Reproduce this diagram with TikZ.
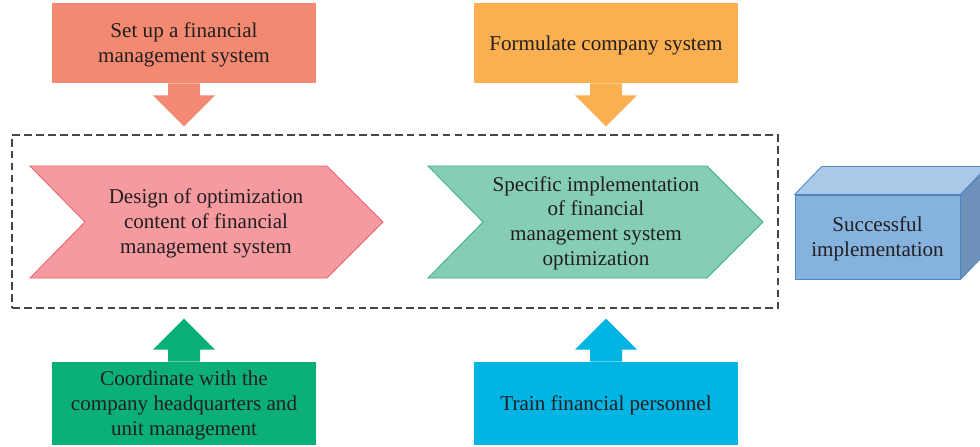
\documentclass[tikz,border=0pt]{standalone}
\usepackage{fontspec}
\setmainfont{Liberation Serif}
\usetikzlibrary{calc,positioning}

\definecolor{ink}{RGB}{35,31,32}
\definecolor{salmon}{RGB}{244,137,113}
\definecolor{amber}{RGB}{250,175,80}
\definecolor{teal}{RGB}{11,175,122}
\definecolor{sky}{RGB}{0,180,228}
\definecolor{pinkfill}{RGB}{245,155,160}
\definecolor{pinkline}{RGB}{235,95,110}
\definecolor{mintfill}{RGB}{133,205,181}
\definecolor{mintline}{RGB}{60,175,140}
\definecolor{cubefront}{RGB}{134,178,222}
\definecolor{cubetop}{RGB}{170,200,232}
\definecolor{cubeside}{RGB}{110,145,185}
\definecolor{cubeline}{RGB}{79,134,198}
\definecolor{framegray}{RGB}{70,70,70}

% block arrow: base, tip, colour, head offset (sign gives direction)
\newcommand{\blockarrow}[4]{%
	\fill[#3] ($(#1)+(-16,0)$) -- ($(#2)+(-16,#4)$) -- ($(#2)+(-31,#4)$) -- (#2)
	-- ($(#2)+(31,#4)$) -- ($(#2)+(16,#4)$) -- ($(#1)+(16,0)$) -- cycle;
}

% chevron body: (centre)(half width){style}
\def\chevron(#1,#2)(#3)#4{%
	\draw[#4] ({#1-#3},{#2-56}) -- ({#1+#3-56},{#2-56}) -- ({#1+#3},#2)
	-- ({#1+#3-56},{#2+56}) -- ({#1-#3},{#2+56}) -- ({#1-#3+55},#2) -- cycle;
}

\begin{document}
\begin{tikzpicture}[x=0.025cm,y=-0.025cm,
	txt/.style={font=\fontsize{15}{17.7}\selectfont,align=center,text=ink,text depth=0pt},
	topbox/.style={txt,minimum width=6.6cm,minimum height=2cm,inner sep=0pt},
	botbox/.style={txt,minimum width=6.6cm,minimum height=2.075cm,inner sep=0pt},
	dashframe/.style={draw=framegray,line width=0.9pt,dash pattern=on 5.5pt off 3pt,
		minimum width=19.15cm,minimum height=4.325cm,inner sep=0pt},
	chevpink/.style={fill=pinkfill,draw=pinkline,line width=0.6pt,line join=miter},
	chevmint/.style={fill=mintfill,draw=mintline,line width=0.6pt,line join=miter},
	cube/.style={draw=cubeline,line width=0.6pt,line join=round}]

\useasboundingbox (0,0) rectangle (980,447);
\clip (0,0) rectangle (980,447);

% dashed frame round the two stages
\node[dashframe] (frame) at (395,221.5) {};

% input boxes
\node[topbox,fill=salmon] (setup) at (184,43) {Set up a financial\\management system};
\node[topbox,fill=amber] (formulate) at (606,43) {Formulate company system};
\node[botbox,fill=teal] (coord) at (184,403.5) {Coordinate with the\\company headquarters and\\unit management};
\node[botbox,fill=sky] (train) at (606,403.5) {Train financial personnel};

% arrow tips near the frame
\coordinate (tipA) at ($(setup.south |- frame.north)+(0,-8)$);
\coordinate (tipB) at ($(formulate.south |- frame.north)+(0,-8)$);
\coordinate (tipC) at ($(coord.north |- frame.south)+(0,10)$);
\coordinate (tipD) at ($(train.north |- frame.south)+(0,10)$);

\blockarrow{setup.south}{tipA}{salmon}{-31}
\blockarrow{formulate.south}{tipB}{amber}{-31}
\blockarrow{coord.north}{tipC}{teal}{31}
\blockarrow{train.north}{tipD}{sky}{31}

% stages
\chevron(206.5,222)(176.5){chevpink}
\node[txt] (design) at (206,221) {Design of optimization\\content of financial\\management system};
\chevron(595.5,222)(167.5){chevmint}
\node[txt] (implement) at (596,221) {Specific implementation\\of financial\\management system\\optimization};

% result cube
\node[txt,fill=cubefront,draw=cubeline,line width=0.6pt,minimum width=4.125cm,minimum height=2.1cm,inner sep=0pt] (success) at (877.5,237) {Successful\\implementation};
\draw[cube,fill=cubetop] (success.north west) -- ++(27,-28) -- ($(success.north east)+(27,-28)$) -- (success.north east) -- cycle;
\draw[cube,fill=cubeside] (success.north east) -- ++(27,-28) -- ($(success.south east)+(27,-28)$) -- (success.south east) -- cycle;

\end{tikzpicture}
\end{document}
